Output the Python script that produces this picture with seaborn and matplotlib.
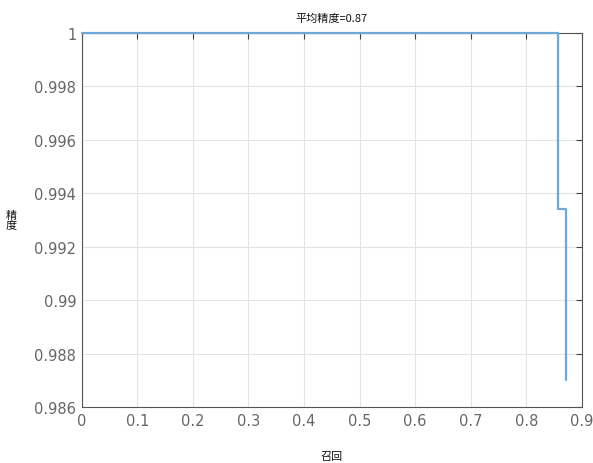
import matplotlib
matplotlib.use("Agg")
import matplotlib.pyplot as plt
import seaborn as sns
import pandas as pd

# step-shaped precision/recall curve
recall = [0.0, 0.858, 0.858, 0.871, 0.871]
precision = [1.0, 1.0, 0.9934, 0.9934, 0.987]
x_ticks = [0, 0.1, 0.2, 0.3, 0.4, 0.5, 0.6, 0.7, 0.8, 0.9]
x_labels = ["0", "0.1", "0.2", "0.3", "0.4", "0.5", "0.6", "0.7", "0.8", "0.9"]
y_ticks = [0.986, 0.988, 0.99, 0.992, 0.994, 0.996, 0.998, 1.0]
y_labels = ["0.986", "0.988", "0.99", "0.992", "0.994", "0.996", "0.998", "1"]

sns.set_theme(style="whitegrid")
plt.rcParams['font.family'] = ['Noto Sans CJK SC', 'DejaVu Sans']
plt.rcParams['xtick.direction'] = 'in'
plt.rcParams['ytick.direction'] = 'in'

df = pd.DataFrame({"recall": recall, "precision": precision})

fig = plt.figure(figsize=(5.93, 4.64), dpi=100)
ax = fig.add_axes([0.138, 0.1207, 0.843, 0.806])
ax.set_facecolor("white")

sns.lineplot(data=df, x="recall", y="precision", sort=False, estimator=None,
             ax=ax, color="#6fa8d6", linewidth=1.6)
for ln in ax.get_lines():
    ln.set_clip_on(False)
    ln.set_zorder(5)

ax.set_xlim(0, 0.9)
ax.set_ylim(0.986, 1.0)
ax.set_xticks(x_ticks)
ax.set_xticklabels(x_labels, fontsize=10.5, color="#666666", family="DejaVu Sans")
ax.set_yticks(y_ticks)
ax.set_yticklabels(y_labels, fontsize=10.5, color="#666666", family="DejaVu Sans")
ax.tick_params(axis="both", which="both", length=4, width=0.8, color="#444444",
               top=True, right=True, pad=4)
ax.grid(True, color="#e3e3e3", linewidth=0.8)
for s in ax.spines.values():
    s.set_visible(True)
    s.set_color("#555555")
    s.set_linewidth(0.8)

ax.set_title("平均精度=0.87", fontsize=8, pad=9, color="#111111")
ax.set_xlabel("召回", fontsize=8, labelpad=17, color="#111111")
ax.set_ylabel("精\n度", fontsize=8, rotation=0, va="center", ha="center",
              color="#111111", linespacing=0.9)
ax.yaxis.set_label_coords(-0.142, 0.5)

plt.savefig("out.png", dpi=100)
plt.close()
